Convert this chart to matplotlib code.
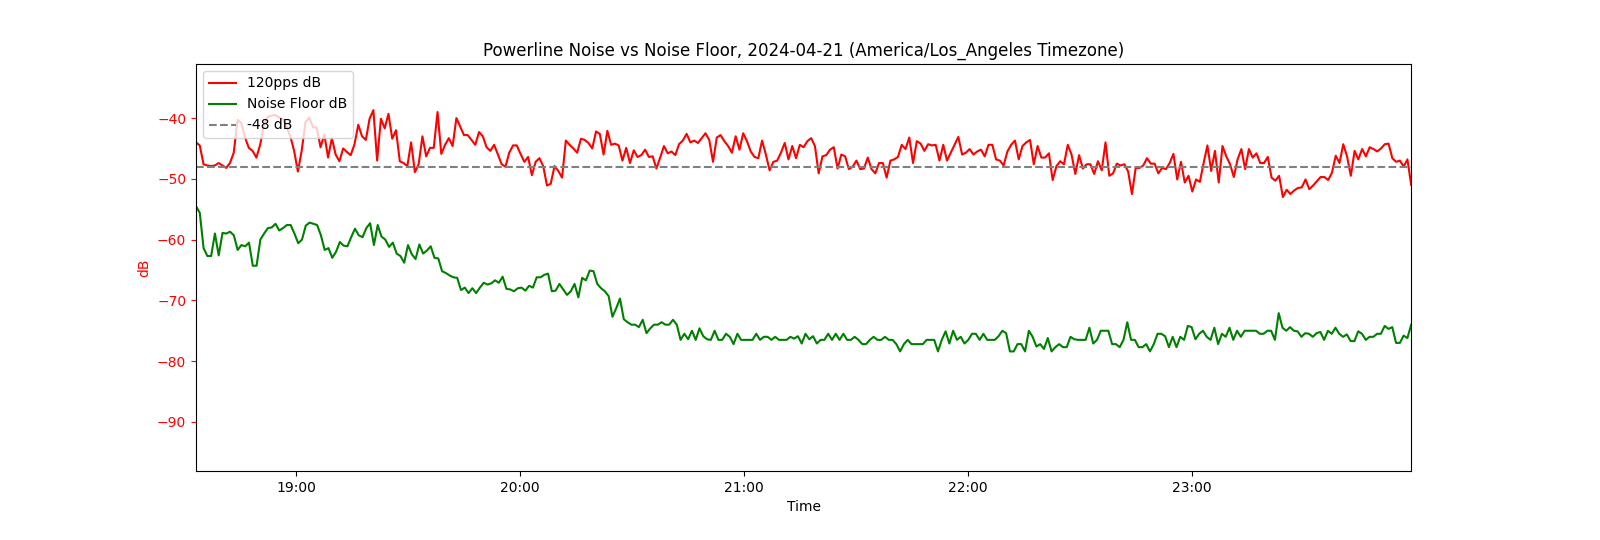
import matplotlib
matplotlib.use("Agg")
import matplotlib.pyplot as plt
import matplotlib.dates as mdates
import pandas as pd

title = "Powerline Noise vs Noise Floor, 2024-04-21 (America/Los_Angeles Timezone)"
t_start = "2024-04-21 18:33:12"
t_end = "2024-04-21 23:58:42"
threshold_db = -48

pps_db = [
    -44.0, -44.5, -47.6, -47.8, -47.9, -47.8, -47.4, -47.8, -48.2, -47.4,
    -45.7, -40.3, -40.8, -43.2, -44.9, -45.4, -46.5, -44.4, -41.1, -39.8,
    -39.6, -39.5, -39.9, -40.2, -41.5, -43.0, -45.4, -48.8, -45.4, -40.7,
    -39.9, -41.5, -41.6, -44.8, -42.7, -46.5, -43.3, -46.0, -47.1, -45.0,
    -45.6, -46.1, -44.3, -41.1, -43.0, -43.6, -40.1, -38.7, -47.0, -40.1,
    -41.7, -39.3, -43.4, -42.0, -47.1, -47.4, -47.9, -44.0, -48.9, -47.6,
    -43.0, -46.3, -44.9, -44.9, -39.0, -45.9, -44.4, -43.3, -44.6, -40.0,
    -41.4, -42.8, -42.8, -43.6, -44.4, -42.3, -43.0, -44.8, -45.4, -44.4,
    -46.0, -47.6, -48.0, -45.7, -44.5, -44.5, -45.9, -47.2, -46.4, -49.4,
    -47.2, -46.6, -47.9, -51.1, -50.8, -47.9, -48.7, -49.8, -43.7, -44.4,
    -45.0, -45.7, -43.4, -43.6, -44.1, -45.0, -42.2, -42.6, -46.0, -42.1,
    -44.4, -44.2, -44.5, -47.0, -44.9, -47.4, -45.3, -46.4, -46.1, -45.2,
    -46.4, -46.3, -48.3, -46.5, -44.6, -45.8, -45.5, -46.1, -44.3, -43.7,
    -42.6, -44.0, -43.7, -44.1, -43.3, -42.5, -43.6, -47.2, -43.2, -42.8,
    -43.8, -44.6, -45.7, -43.0, -45.2, -42.5, -43.8, -45.5, -46.4, -46.6,
    -43.7, -46.0, -48.6, -47.2, -47.0, -45.7, -44.1, -46.8, -44.6, -46.6,
    -44.4, -44.8, -43.8, -43.3, -44.6, -49.1, -46.3, -46.1, -45.2, -44.8,
    -48.3, -46.0, -46.3, -48.4, -48.0, -47.0, -48.4, -48.3, -46.5, -48.4,
    -49.1, -47.4, -47.4, -49.8, -47.0, -46.8, -46.4, -44.4, -45.1, -43.2,
    -47.4, -43.8, -44.2, -45.4, -44.3, -44.5, -44.4, -47.0, -44.4, -47.0,
    -45.7, -44.4, -43.1, -46.0, -45.7, -45.1, -46.0, -45.5, -45.2, -46.3,
    -44.4, -44.4, -46.8, -47.0, -47.8, -45.5, -44.4, -43.7, -46.8, -44.6,
    -44.0, -43.6, -47.6, -44.6, -46.5, -46.5, -45.8, -50.2, -47.9, -47.1,
    -47.6, -44.4, -46.0, -49.2, -46.1, -48.3, -47.6, -47.6, -49.2, -47.1,
    -48.6, -44.0, -49.5, -49.1, -47.5, -47.8, -47.6, -48.8, -52.5, -48.2,
    -48.2, -47.8, -46.6, -47.5, -47.5, -49.1, -48.2, -48.4, -47.4, -45.9,
    -50.1, -47.2, -50.6, -49.5, -52.1, -50.1, -50.5, -47.4, -44.5, -48.7,
    -45.4, -50.6, -44.6, -46.3, -47.6, -49.7, -46.8, -45.1, -48.4, -45.1,
    -46.5, -45.8, -47.4, -47.4, -46.4, -49.8, -50.3, -49.5, -53.0, -51.8,
    -52.5, -51.9, -51.5, -51.4, -50.1, -51.7, -51.1, -50.4, -49.7, -49.7,
    -50.2, -49.0, -46.2, -47.4, -44.3, -46.3, -49.5, -45.4, -46.8, -45.1,
    -46.3, -44.8, -45.1, -45.5, -45.0, -44.3, -44.2, -46.6, -47.2, -47.0,
    -48.0, -46.8, -51.0,
]

floor_db = [
    -54.5, -55.6, -61.4, -62.7, -62.7, -59.0, -62.6, -58.9, -59.0, -58.7,
    -59.3, -61.7, -60.9, -61.1, -60.5, -64.3, -64.3, -60.0, -59.0, -58.1,
    -58.0, -57.4, -58.5, -58.1, -57.6, -57.6, -59.0, -60.6, -60.0, -57.7,
    -57.2, -57.4, -57.6, -59.3, -61.7, -61.4, -63.0, -62.0, -60.4, -61.0,
    -61.1, -59.6, -58.2, -59.3, -59.6, -58.1, -57.3, -60.9, -57.6, -59.5,
    -60.0, -61.2, -60.5,
    -62.3, -62.7, -63.8, -60.9, -62.4, -63.2, -60.8, -62.3, -61.8, -61.1,
    -63.0, -63.1, -65.2, -65.5, -65.9, -66.2, -66.3, -68.3, -67.9, -68.8,
    -68.0, -68.8, -67.9, -67.1, -67.4, -67.2, -66.7, -67.1, -66.1, -68.1,
    -68.2, -68.5, -68.0, -67.9, -68.4, -67.6, -67.9, -66.2, -66.2, -65.8,
    -65.6, -68.5, -68.4, -67.3, -68.2, -69.1, -68.5, -67.3, -69.5, -66.3,
    -66.7, -65.1, -65.2,
    -67.3, -68.0, -68.5, -69.3,
    -72.7, -71.3, -69.7, -73.1, -73.6, -74.0, -74.0, -74.4, -73.2, -75.4,
    -74.6, -74.0, -74.0, -73.6, -74.0, -74.0, -73.2, -74.0, -76.5, -75.5,
    -76.4, -75.0, -76.5, -74.6, -75.9, -76.4, -76.5, -75.0, -76.5, -76.5,
    -75.5, -76.0, -77.2, -75.5, -76.5, -76.5, -76.5, -76.5, -75.5, -76.5,
    -76.0, -76.0, -76.5, -76.0, -76.5, -76.5, -76.5, -76.0,
    -76.3, -75.9, -77.1, -75.5, -76.4, -75.9, -77.1, -76.5, -76.5, -75.5,
    -76.5, -75.5, -76.5, -75.5, -76.5, -76.5, -76.0, -76.5, -77.2, -77.2,
    -76.5, -76.0, -76.5, -76.5, -76.0, -76.5, -76.5, -77.2, -78.4, -77.2,
    -76.5, -77.2, -77.2, -77.2, -77.2, -76.5, -76.5, -76.5, -78.4, -76.5,
    -75.1, -77.1, -75.0, -76.5, -76.0, -77.1, -76.5, -75.5, -75.5, -76.5,
    -75.5, -76.5,
    -76.5, -76.5, -75.9, -75.0, -75.4, -78.4, -78.4, -77.2, -77.2, -78.4,
    -75.0, -76.0, -77.6, -77.2, -78.0, -76.2, -78.4, -77.7, -77.2, -77.7,
    -77.7, -76.0, -76.4, -76.5, -76.5, -76.5, -74.5, -77.1, -76.5, -75.0,
    -75.0, -75.0, -77.2, -77.2, -77.7, -76.5, -73.6, -76.5, -76.5, -77.7,
    -77.7, -77.2, -78.4, -77.2, -75.5, -75.5, -75.9, -77.7, -76.0, -77.7,
    -76.0, -76.5,
    -74.2, -74.4, -76.4, -75.5, -75.0, -76.0, -76.5, -74.5, -77.2, -75.5,
    -76.0, -74.5, -76.5, -75.0, -76.0, -75.0, -75.0, -75.0, -75.0, -75.5,
    -75.5, -75.0, -75.0, -76.5, -72.1, -74.5, -75.0, -74.4, -75.0, -75.1,
    -76.0, -75.4, -75.5, -76.0, -75.4, -75.2, -76.5, -75.0, -75.5, -74.5,
    -75.5, -76.0, -75.6, -76.7, -76.7, -75.1, -75.5, -76.5, -76.0, -76.0,
    -75.5, -75.5, -74.2, -74.7, -74.4, -77.0, -77.0, -75.8, -76.2, -74.0,
]

t_pps = pd.date_range(t_start, t_end, periods=len(pps_db))
t_floor = pd.date_range(t_start, t_end, periods=len(floor_db))

fig, ax = plt.subplots(figsize=(16, 5.4), dpi=100)
fig.subplots_adjust(left=0.1225, right=0.882, top=0.8815, bottom=0.128)

ax.plot(t_pps, pps_db, color="red", label="120pps dB")
ax.plot(t_floor, floor_db, color="green", label="Noise Floor dB")
ax.axhline(threshold_db, color="gray", linestyle="--", label="-48 dB")

ax.set_xlim(t_pps[0], t_pps[-1])
ax.set_ylim(-98.06, -31.1)
ax.xaxis.set_major_locator(mdates.HourLocator())
ax.xaxis.set_major_formatter(mdates.DateFormatter("%H:%M"))
ax.set_xlabel("Time")
ax.set_ylabel("dB", color="red")
ax.tick_params(axis="y", colors="red")
ax.set_title(title)
ax.legend(loc="upper left")

fig.savefig("out.png", dpi=100)
